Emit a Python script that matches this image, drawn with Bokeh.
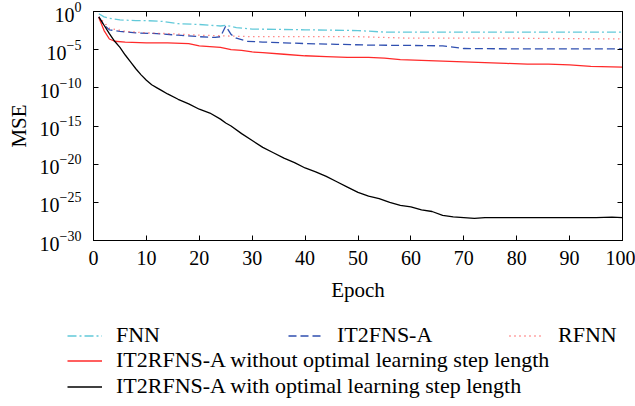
from bokeh.plotting import figure
from bokeh.layouts import column
from bokeh.models import (LogAxis, LinearAxis, FixedTicker, Legend, LegendItem,
                          CustomJSTickFormatter, Range1d)
from bokeh.embed import file_html
from bokeh.resources import INLINE

# ---- data (log10 of MSE) ----
fnn_epoch = [1, 2, 3, 5, 8, 10, 13, 16, 20, 24, 25, 27, 30, 40, 50, 55, 60, 100]
fnn_exp = [-0.3, -0.7, -0.9, -1.1, -1.2, -1.2, -1.3, -1.6, -1.7, -1.9, -1.8, -2.1, -2.3, -2.4, -2.5, -2.7, -2.7, -2.7]

it2fns_epoch = [1, 2, 3, 5, 8, 12, 16, 20, 23, 24, 25, 26, 27, 29, 32, 36, 40, 46, 52, 60, 66, 70, 80, 90, 100]
it2fns_exp = [-0.7, -1.8, -2.4, -2.6, -2.8, -2.9, -3.1, -3.3, -3.4, -3.3, -1.9, -3.0, -3.5, -3.9, -4.0, -4.1, -4.2, -4.3, -4.4, -4.45, -4.5, -4.85, -4.9, -4.9, -4.9]

rfnn_epoch = [1, 3, 6, 10, 14, 20, 30, 40, 50, 55, 60, 80, 100]
rfnn_exp = [-0.7, -2.2, -2.6, -2.8, -2.9, -3.1, -3.3, -3.3, -3.3, -3.4, -3.5, -3.5, -3.6]

wo_epoch = [1, 2, 3, 4, 6, 10, 14, 18, 20, 22, 24, 26, 28, 30, 32, 36, 40, 44, 48, 52, 55, 58, 62, 66, 70, 74, 78, 82, 86, 90, 94, 100]
wo_exp = [-0.8, -2.5, -3.6, -3.9, -4.0, -4.1, -4.1, -4.2, -4.5, -4.6, -4.7, -5.0, -5.1, -5.3, -5.4, -5.6, -5.8, -5.9, -6.0, -6.0, -6.1, -6.3, -6.4, -6.5, -6.6, -6.7, -6.8, -6.9, -6.9, -7.0, -7.2, -7.3]

w_epoch = [1, 2, 3, 4, 5, 6, 7, 8, 9, 10, 11, 12, 13, 14, 16, 18, 20, 22, 24, 25, 26, 28, 30, 32, 34, 36, 38, 40, 42, 44, 46, 48, 50, 52, 54, 56, 58, 60, 62, 64, 66, 68, 70, 72, 74, 76, 78, 80, 85, 90, 95, 98, 100]
w_exp = [-0.7, -1.8, -2.9, -3.9, -4.7, -5.7, -6.6, -7.5, -8.3, -9.0, -9.6, -10.0, -10.4, -10.8, -11.5, -12.1, -12.8, -13.3, -14.1, -14.6, -15.0, -16.0, -16.9, -17.8, -18.5, -19.2, -19.8, -20.5, -21.0, -21.6, -22.3, -23.0, -23.7, -24.2, -24.5, -25.0, -25.4, -25.6, -26.0, -26.2, -26.7, -26.9, -27.0, -27.1, -27.0, -27.0, -27.0, -27.0, -27.0, -27.0, -27.0, -26.95, -27.0]

y_ticks = [1e-30, 1e-25, 1e-20, 1e-15, 1e-10, 1e-5, 1e0]
x_ticks = [0, 10, 20, 30, 40, 50, 60, 70, 80, 90, 100]

labels = ["FNN", "IT2FNS-A", "RFNN",
          "IT2RFNS-A without optimal learning step length",
          "IT2RFNS-A with optimal learning step length"]

FONT = "Liberation Serif"
FS = "20px"
FS_LAB = "21px"
FS_LEG = "22px"

styles = [
    dict(line_color="#62c9d9", line_width=1.3, line_dash="9 3 2 3"),
    dict(line_color="#2f4fb0", line_width=1.3, line_dash="8 4"),
    dict(line_color="#ff4b4b", line_width=1.3, line_dash="1 4"),
    dict(line_color="#ff2a2a", line_width=1.3),
    dict(line_color="black", line_width=1.3),
]

p = figure(width=635, height=306, y_axis_type="log", output_backend="svg",
           toolbar_location=None, x_range=Range1d(0, 100),
           y_range=Range1d(1e-30, 1e0),
           min_border_left=93, min_border_right=13, min_border_top=11,
           min_border_bottom=66)
p.frame_align = False
p.grid.visible = False
p.outline_line_color = "black"
p.outline_line_width = 1
p.background_fill_color = "white"

def pw(e):
    return [10.0 ** v for v in e]

series = [(fnn_epoch, fnn_exp), (it2fns_epoch, it2fns_exp), (rfnn_epoch, rfnn_exp),
          (wo_epoch, wo_exp), (w_epoch, w_exp)]
for (xs, es), st in zip(series, styles):
    p.line(xs, pw(es), **st)

def style_axis(ax):
    ax.axis_line_color = "black"
    ax.major_tick_line_color = "black"
    ax.major_tick_in = 5
    ax.major_tick_out = 0
    ax.minor_tick_line_color = None
    ax.major_label_text_font = FONT
    ax.major_label_text_font_size = FS
    ax.major_label_text_color = "black"
    ax.axis_label_text_font = FONT
    ax.axis_label_text_font_size = FS_LAB
    ax.axis_label_text_font_style = "normal"
    ax.axis_label_text_color = "black"

xa = p.xaxis[0]
xa.ticker = FixedTicker(ticks=x_ticks)
xa.axis_label = "Epoch"
style_axis(xa)
xa.major_label_standoff = 10
xa.axis_label_standoff = 10

ya = p.yaxis[0]
ya.ticker = FixedTicker(ticks=y_ticks)
ya.axis_label = "MSE"
style_axis(ya)
ya.major_label_standoff = 12
ya.axis_label_standoff = 6

blank = CustomJSTickFormatter(code="return ''")
top = LinearAxis(ticker=FixedTicker(ticks=x_ticks), formatter=blank)
style_axis(top)
top.major_label_text_font_size = "0px"
right = LogAxis(ticker=FixedTicker(ticks=y_ticks), formatter=blank)
style_axis(right)
right.major_label_text_font_size = "0px"
p.add_layout(top, "above")
p.add_layout(right, "right")

# ---- legend panel (same series, drawn out of view; only the legend shows) ----
lf = figure(width=635, height=100, output_backend="svg", toolbar_location=None,
            x_range=Range1d(200, 201), y_range=Range1d(0, 1),
            x_axis_location=None, y_axis_location=None,
            min_border=0, min_border_left=0, min_border_right=0,
            min_border_top=0, min_border_bottom=0)
lf.frame_align = False
lf.grid.visible = False
lf.outline_line_color = None
rends = [lf.line(xs, pw(es), **st) for (xs, es), st in zip(series, styles)]

def style_legend(lg):
    lg.label_text_font = FONT
    lg.label_text_font_size = FS_LEG
    lg.label_text_color = "black"
    lg.border_line_color = None
    lg.background_fill_alpha = 0
    lg.glyph_width = 35
    lg.label_standoff = 14
    lg.padding = 0
    lg.margin = 0
    lg.label_height = 25
    lg.glyph_height = 25

leg1 = Legend(items=[LegendItem(label=labels[i], renderers=[rends[i]]) for i in range(3)],
              orientation="horizontal", location=(67, 58))
style_legend(leg1)
leg1.label_width = 164
leg1.spacing = 8

leg2 = Legend(items=[LegendItem(label=labels[i], renderers=[rends[i]]) for i in (3, 4)],
              orientation="vertical", location=(67, 7))
style_legend(leg2)
leg2.spacing = 0

lf.add_layout(leg1)
lf.add_layout(leg2)

layout = column(p, lf, spacing=0)
open("out.html", "w").write(file_html(layout, INLINE))
